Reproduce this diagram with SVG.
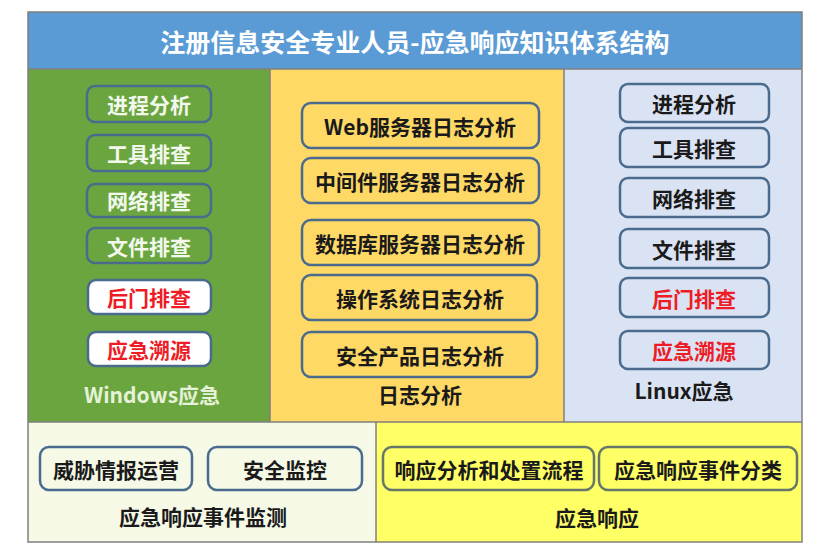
<svg xmlns="http://www.w3.org/2000/svg" width="821" height="556" viewBox="0 0 821 556">
<style>
text{font-family:"Noto Sans CJK SC","Noto Sans",sans-serif;font-weight:bold;text-anchor:middle;dominant-baseline:central}
.t{font-size:21px;fill:#1a1a1a}
.w{font-size:21px;fill:#f2f8ec}
.r{font-size:21px;fill:#ee1c25}
.box{stroke:#4a6b8e;stroke-width:2.5}
.g{fill:#6aa53f}
.o{fill:#ffd966}
.b{fill:#dae3f3}
.wh{fill:#ffffff}
.c{fill:#f5f9e6}
.y{fill:#ffff66}
.yb{stroke:#66776a}
</style>
<rect width="821" height="556" fill="#ffffff"/>
<g id="frame">
<rect x="28" y="69" width="242" height="353" fill="#6aa53f"/>
<rect x="270" y="69" width="294" height="353" fill="#ffd966"/>
<rect x="564" y="69" width="238" height="353" fill="#dae3f3"/>
<rect x="28" y="422" width="348" height="120" fill="#f5f9e6"/>
<rect x="376" y="422" width="426" height="120" fill="#ffff66"/>
<rect x="28" y="12" width="774" height="57" fill="#5b9bd5"/>
<g fill="none" stroke="#7f7f7f" stroke-width="1.5">
<rect x="28" y="12" width="774" height="530"/>
<line x1="28" y1="69" x2="802" y2="69"/>
<line x1="270" y1="69" x2="270" y2="422"/>
<line x1="564" y1="69" x2="564" y2="422"/>
<line x1="28" y1="422" x2="802" y2="422"/>
<line x1="376" y1="422" x2="376" y2="542"/>
</g>
<text x="415" y="41" style="font-size:25px;fill:#ffffff">注册信息安全专业人员-应急响应知识体系结构</text>
</g>
<g id="windows">
<g id="w1"><rect class="box g" x="87" y="86" width="124" height="36" rx="8"/><text class="w" x="149" y="104">进程分析</text></g>
<g id="w2"><rect class="box g" x="87" y="135" width="124" height="36" rx="8"/><text class="w" x="149" y="153">工具排查</text></g>
<g id="w3"><rect class="box g" x="87" y="184" width="124" height="33" rx="8"/><text class="w" x="149" y="200">网络排查</text></g>
<g id="w4"><rect class="box g" x="87" y="228" width="124" height="35" rx="8"/><text class="w" x="149" y="246">文件排查</text></g>
<g id="w5"><rect class="box wh" x="88" y="280" width="123" height="34" rx="8"/><text class="r" x="149" y="297">后门排查</text></g>
<g id="w6"><rect class="box wh" x="88" y="332" width="123" height="34" rx="8"/><text class="r" x="149" y="349">应急溯源</text></g>
<text x="152" y="394" style="font-size:21px;fill:#e6f2d8">Windows应急</text>
</g>
<g id="logs">
<g id="l1"><rect class="box o" x="302" y="103" width="237" height="45" rx="9"/><text class="t" x="420" y="126">Web服务器日志分析</text></g>
<g id="l2"><rect class="box o" x="302" y="158" width="237" height="45" rx="9"/><text class="t" x="420" y="181">中间件服务器日志分析</text></g>
<g id="l3"><rect class="box o" x="302" y="220" width="237" height="45" rx="9"/><text class="t" x="420" y="243">数据库服务器日志分析</text></g>
<g id="l4"><rect class="box o" x="302" y="275" width="235" height="45" rx="9"/><text class="t" x="420" y="298">操作系统日志分析</text></g>
<g id="l5"><rect class="box o" x="302" y="332" width="235" height="45" rx="9"/><text class="t" x="420" y="355">安全产品日志分析</text></g>
<text class="t" x="420" y="394">日志分析</text>
</g>
<g id="linux">
<g id="x1"><rect class="box b" x="620" y="84" width="149" height="38" rx="8"/><text class="t" x="694" y="103">进程分析</text></g>
<g id="x2"><rect class="box b" x="620" y="128" width="149" height="39" rx="8"/><text class="t" x="694" y="148">工具排查</text></g>
<g id="x3"><rect class="box b" x="620" y="178" width="149" height="39" rx="8"/><text class="t" x="694" y="198">网络排查</text></g>
<g id="x4"><rect class="box b" x="620" y="229" width="149" height="39" rx="8"/><text class="t" x="694" y="249">文件排查</text></g>
<g id="x5"><rect class="box b" x="620" y="278" width="149" height="39" rx="8"/><text class="r" x="694" y="298">后门排查</text></g>
<g id="x6"><rect class="box b" x="620" y="331" width="149" height="38" rx="8"/><text class="r" x="694" y="350">应急溯源</text></g>
<text class="t" x="684" y="390">Linux应急</text>
</g>
<g id="monitor">
<g id="m1"><rect class="box c" x="40" y="447" width="152" height="43" rx="9"/><text class="t" x="116" y="469">威胁情报运营</text></g>
<g id="m2"><rect class="box c" x="208" y="447" width="154" height="43" rx="9"/><text class="t" x="285" y="469">安全监控</text></g>
<text class="t" x="203" y="516">应急响应事件监测</text>
</g>
<g id="response">
<g id="r1"><rect class="box y yb" x="383" y="447" width="211" height="43" rx="9"/><text class="t" x="489" y="469">响应分析和处置流程</text></g>
<g id="r2"><rect class="box y yb" x="599" y="447" width="198" height="43" rx="9"/><text class="t" x="698" y="469">应急响应事件分类</text></g>
<text class="t" x="597" y="517">应急响应</text>
</g>
<g id="connectors"/>
</svg>
